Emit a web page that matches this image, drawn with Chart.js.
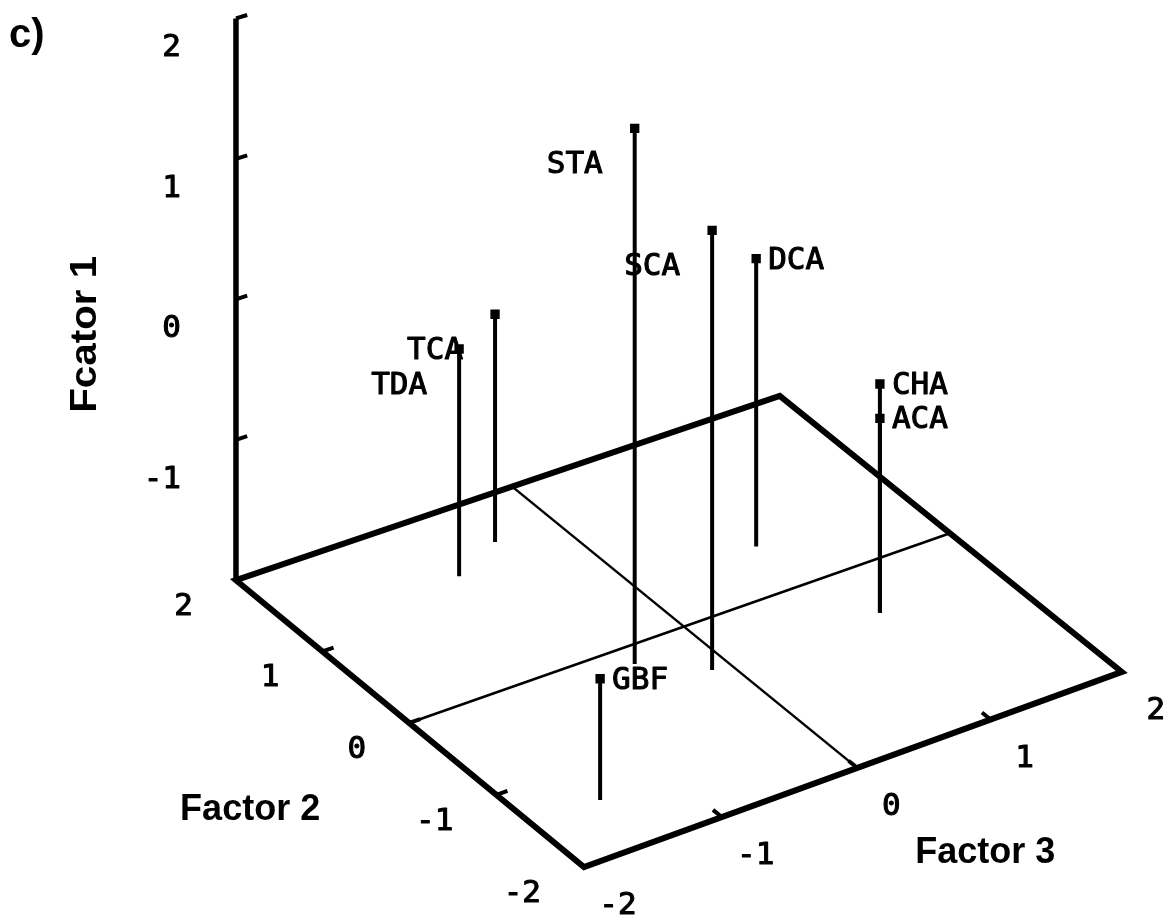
<!DOCTYPE html>
<html>
<head>
<meta charset="utf-8">
<script src="https://cdn.jsdelivr.net/npm/chart.js@4.4.1/dist/chart.umd.min.js"></script>
<style>
html,body{margin:0;padding:0;background:#ffffff;}
canvas{display:block;}
</style>
</head>
<body>
<canvas id="c" width="1166" height="918"></canvas>
<script>
// ---- data (factor scores) ----
const samples = ['STA', 'SCA', 'DCA', 'TCA', 'TDA', 'CHA', 'ACA', 'GBF'];
const factor1 = [1.84, 1.16, 0.09, -0.36, -0.37, -0.34, -0.59, -1.14];
const factor2 = [-0.20, -0.53, 0.55, 1.50, 1.28, -0.55, -0.55, -1.41];
const factor3 = [-0.49, -0.13, 0.89, -0.44, -0.84, 1.11, 1.11, -1.51];

// ---- axes ----
const axisRange = [-2, 2];
const factor1Ticks = [-1, 0, 1, 2];
const factor2Ticks = [2, 1, 0, -1, -2];
const factor3Ticks = [-2, -1, 0, 1, 2];
const factor1Title = 'Fcator 1';
const factor2Title = 'Factor 2';
const factor3Title = 'Factor 3';
const panelLabel = 'c)';

// ---- style ----
const INK = '#000000';
const LEFT_LABELS = ['STA', 'SCA', 'TCA', 'TDA'];
const MONO = '"DejaVu Sans Mono", "Liberation Mono", monospace';
const SANS = '"Liberation Sans", Arial, sans-serif';

// ---- perspective camera: rows (u, v, w) applied to [Factor3, Factor2, Factor1, 1] ----
const VIEW = [
  [145.2475, -87.4363, 0, 699.625],
  [-43.9675, -71.335, -143.88, 354.635],
  [0.0081975, 0.0024303, 0, 1.021255]
];
function project(f3, f2, f1) {
  const p = [f3, f2, f1, 1];
  const r = VIEW.map(row => row.reduce((s, m, i) => s + m * p[i], 0));
  return { x: r[0] / r[2], y: r[1] / r[2] };
}

const LO = axisRange[0], HI = axisRange[1];

function seg(a, b, width) {
  return {
    data: [project(a[0], a[1], a[2]), project(b[0], b[1], b[2])],
    showLine: true, borderColor: INK, borderWidth: width,
    pointRadius: 0, borderCapStyle: 'butt', borderJoinStyle: 'miter'
  };
}

const datasets = [];
// markers at the data points
datasets.push({
  data: samples.map((s, i) => project(factor3[i], factor2[i], factor1[i])),
  showLine: false, pointStyle: 'rect', pointRadius: 6.6,
  backgroundColor: INK, borderColor: INK, borderWidth: 0
});
// drop lines
samples.forEach((s, i) => {
  datasets.push(seg([factor3[i], factor2[i], LO], [factor3[i], factor2[i], factor1[i]], 4));
});
// floor frame
datasets.push({
  data: [project(LO, HI, LO), project(LO, LO, LO), project(HI, LO, LO), project(HI, HI, LO), project(LO, HI, LO), project(LO, LO, LO)],
  showLine: true, borderColor: INK, borderWidth: 6, pointRadius: 0,
  borderCapStyle: 'butt', borderJoinStyle: 'miter'
});
// vertical axis
datasets.push(seg([LO, HI, LO], [LO, HI, HI], 5.5));
// zero lines on the floor
datasets.push(seg([0, LO, LO], [0, HI, LO], 2.5));
datasets.push(seg([LO, 0, LO], [HI, 0, LO], 2.5));
// ticks
factor1Ticks.forEach(z => datasets.push(seg([LO, HI, z], [LO + 0.08, HI, z], 4)));
factor2Ticks.forEach(y => datasets.push(seg([LO, y, LO], [LO + 0.08, y, LO], 4)));
factor3Ticks.forEach(x => datasets.push(seg([x, LO, LO], [x, LO + 0.1, LO], 4)));

const fmt = v => String(v);

function heavyText(ctx, s, x, y) {
  ctx.fillText(s, x, y);
  ctx.strokeText(s, x, y);
}

const textPlugin = {
  id: 'texts',
  afterDatasetsDraw(chart) {
    const ctx = chart.ctx;
    const sx = chart.scales.x, sy = chart.scales.y;
    const px = p => ({ x: sx.getPixelForValue(p.x), y: sy.getPixelForValue(p.y) });
    ctx.save();
    ctx.fillStyle = INK;
    ctx.strokeStyle = INK;
    ctx.lineWidth = 1.1;
    ctx.lineJoin = 'round';
    const fs = 31, mid = Math.round(fs * 0.36);
    ctx.font = fs + 'px ' + MONO;
    ctx.textBaseline = 'alphabetic';
    // point labels
    samples.forEach((name, i) => {
      const p = px(project(factor3[i], factor2[i], factor1[i]));
      if (LEFT_LABELS.includes(name)) {
        ctx.textAlign = 'right';
        heavyText(ctx, name, p.x - 32, p.y + 34 + mid);
      } else {
        ctx.textAlign = 'left';
        heavyText(ctx, name, p.x + 12, p.y - 1 + mid);
      }
    });
    // Factor 1 tick labels
    ctx.textAlign = 'right';
    factor1Ticks.forEach(z => {
      const p = px(project(LO, HI, z));
      heavyText(ctx, fmt(z), p.x - 55, p.y + (z < 0 ? 37 : 27) + mid);
    });
    // Factor 2 tick labels
    factor2Ticks.forEach(y => {
      const p = px(project(LO, y, LO));
      heavyText(ctx, fmt(y), p.x - 43, p.y + 24 + mid);
    });
    // Factor 3 tick labels
    ctx.textAlign = 'center';
    factor3Ticks.forEach(x => {
      const p = px(project(x, LO, LO));
      heavyText(ctx, fmt(x), p.x + 34, p.y + 36 + mid);
    });
    // axis titles
    ctx.font = 'bold 36px ' + SANS;
    let p = px(project(LO, 0, LO));
    ctx.fillText(factor2Title, p.x - 159, p.y + 97);
    p = px(project(0, LO, LO));
    ctx.fillText(factor3Title, p.x + 128, p.y + 95);
    p = px(project(LO, HI, 0));
    ctx.save();
    ctx.translate(p.x - 140, p.y + 35);
    ctx.rotate(-Math.PI / 2);
    ctx.scale(1.12, 1);
    ctx.fillText(factor1Title, 0, 0);
    ctx.restore();
    // panel label
    ctx.textAlign = 'left';
    ctx.font = 'bold 40px ' + SANS;
    ctx.fillText(panelLabel, 9, 47);
    ctx.restore();
  }
};

new Chart(document.getElementById('c'), {
  type: 'scatter',
  data: { datasets },
  options: {
    responsive: false,
    animation: false,
    events: [],
    layout: { padding: 0 },
    plugins: { legend: { display: false }, tooltip: { enabled: false } },
    scales: {
      x: { type: 'linear', min: 0, max: 1166, display: false },
      y: { type: 'linear', min: 0, max: 918, reverse: true, display: false }
    }
  },
  plugins: [textPlugin]
});
</script>
</body>
</html>
